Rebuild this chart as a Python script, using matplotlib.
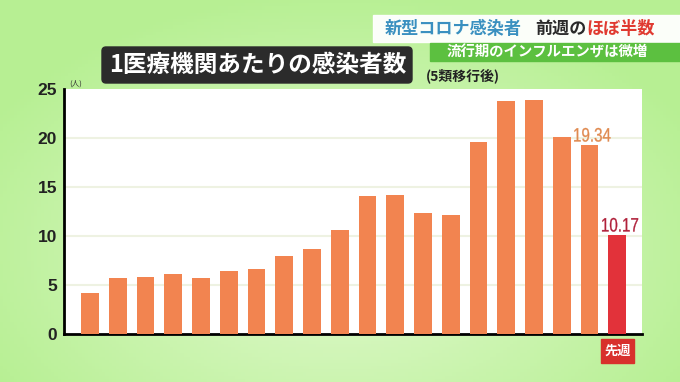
import numpy as np
import matplotlib
matplotlib.use('Agg')
import matplotlib.pyplot as plt
from matplotlib.patches import FancyBboxPatch, Rectangle, PathPatch
from matplotlib.textpath import TextPath
from matplotlib.font_manager import FontProperties
from matplotlib.transforms import Affine2D, ScaledTranslation

plt.rcParams['font.family'] = ['Noto Sans CJK JP', 'DejaVu Sans']

# data (weekly cases per medical institution)
values = [4.2, 5.7, 5.8, 6.1, 5.7, 6.5, 6.7, 8.0, 8.7, 10.6,
          14.1, 14.2, 12.4, 12.2, 19.6, 23.8, 23.9, 20.1, 19.34, 10.17]
yticks = [0, 5, 10, 15, 20, 25]
title = '1医療機関あたりの感染者数'
subtitle = '(5類移行後)'
unit = '(人)'
last_week = '先週'
head_blue = '新型コロナ感染者'
head_dark = '前週の'
head_red = 'ほぼ半数'
sub_head = '流行期のインフルエンザは微増'

W, H = 680, 382
fig = plt.figure(figsize=(W / 100, H / 100), dpi=100)

# background in pixel coordinates
bg = fig.add_axes([0, 0, 1, 1])
bg.set_xlim(0, W)
bg.set_ylim(H, 0)
bg.axis('off')
xx, yy = np.meshgrid(np.linspace(-1, 1, 200), np.linspace(-1, 1, 120))
r = np.clip(np.sqrt((xx * 0.85) ** 2 + ((yy - 0.3) * 0.75) ** 2), 0, 1)
light = np.array([0.89, 0.98, 0.82])
dark = np.array([0.72, 0.94, 0.58])
img = light[None, None, :] * (1 - r[..., None]) + dark[None, None, :] * r[..., None]
bg.imshow(img, extent=[0, W, H, 0], aspect='auto', zorder=0)

# headline boxes top right
bg.add_patch(Rectangle((373, 15), W - 373, 27, color='white', alpha=0.95, zorder=1))
bg.text(385, 29, head_blue, color='#3a90c0', fontsize=12.3, fontweight='bold', va='center', zorder=2)
bg.text(535, 29, head_dark, color='#2a2a2a', fontsize=12.3, fontweight='bold', va='center', zorder=2)
bg.text(586, 29, head_red, color='#e03a30', fontsize=12.3, fontweight='bold', va='center', zorder=2)
bg.add_patch(Rectangle((430, 43), W - 430, 18, color='#5cc040', zorder=1))
bg.text(447, 52, sub_head, color='white', fontsize=10.4, fontweight='bold', va='center', zorder=2)

# title box
bg.add_patch(FancyBboxPatch((102, 47), 310, 36, boxstyle='round,pad=0,rounding_size=4',
                            color='#2b2b2b', zorder=1))
bg.text(109, 65, title, color='white', fontsize=17, fontweight='bold', va='center', zorder=2)
bg.text(426, 76, subtitle, color='#222222', fontsize=10, fontweight='bold', va='center', zorder=2)
bg.text(69, 84, unit, color='#333333', fontsize=5.5, va='center', zorder=2)

# "last week" tag
bg.add_patch(Rectangle((601, 339), 33, 24, color='#d8302c', zorder=1))
bg.text(617.5, 351, last_week, color='white', fontsize=9.5, fontweight='bold',
        ha='center', va='center', zorder=2)

# chart
ax = fig.add_axes([64 / W, 1 - 334.3 / H, (642 - 64) / W, (334.3 - 89) / H])
ax.set_facecolor('white')
x = np.arange(len(values))
colors = ['#f28450'] * (len(values) - 1) + ['#e2323a']
ax.bar(x, values, width=0.64, color=colors, zorder=3)
ax.set_xlim(-0.94, 19.89)
ax.set_ylim(0, 25)
ax.set_yticks(yticks)
ax.set_yticklabels([str(t) for t in yticks], family='Liberation Sans',
                   fontsize=12.5, fontweight='bold', color='#222222')
ax.set_xticks([])
for t in yticks[1:-1]:
    ax.axhline(t, color='#eef2e2', lw=1.5, zorder=1)
for s in ['top', 'right']:
    ax.spines[s].set_visible(False)
ax.spines['left'].set_linewidth(2)
ax.spines['bottom'].set_linewidth(2)
ax.tick_params(axis='y', length=0, pad=5)


# condensed value labels (narrow digits like the TV graphic)
def narrow_label(xv, yv, s, color, size=14, squeeze=0.78):
    tp = TextPath((0, 0), s, size=size, prop=FontProperties(family='Liberation Sans'))
    ext = tp.get_extents()
    tr = (Affine2D().translate(-(ext.x0 + ext.x1) / 2, 0).scale(squeeze / 72, 1 / 72)
          + fig.dpi_scale_trans
          + ScaledTranslation(xv, yv, ax.transData)
          + Affine2D().translate(0, 3))
    ax.add_patch(PathPatch(tp, transform=tr, facecolor=color, edgecolor=color,
                           lw=0.2, zorder=4, clip_on=False))


narrow_label(x[-2] + 0.1, values[-2], f'{values[-2]:.2f}', '#e08a50')
narrow_label(x[-1] + 0.1, values[-1], f'{values[-1]:.2f}', '#b0203a')

fig.savefig('out.png', dpi=100)
